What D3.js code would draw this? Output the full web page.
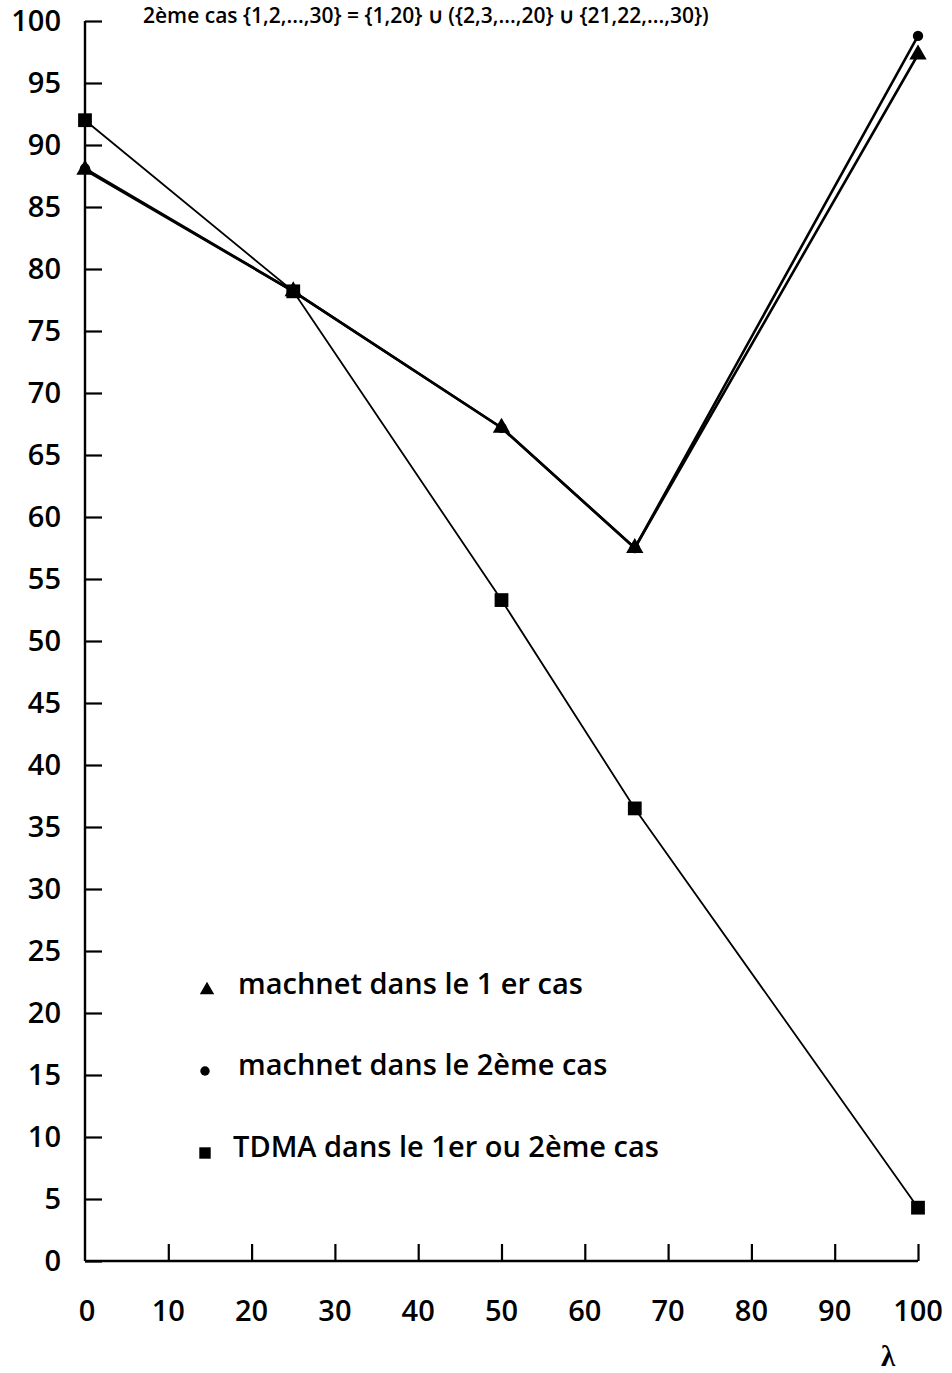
<!DOCTYPE html>
<html><head><meta charset="utf-8">
<script src="https://cdn.jsdelivr.net/npm/d3@7"></script>
<style>html,body{margin:0;padding:0;background:#fff;overflow:hidden}</style>
</head><body>
<script>
const lambdas = [0, 25, 50, 66, 100];
const machnet1 = [88, 78.2, 67.2, 57.5, 97.3];
const machnet2 = [88.1, 78.2, 67.2, 57.5, 98.8];
const tdma = [92, 78.2, 53.3, 36.5, 4.3];
const xTicks = [0,10,20,30,40,50,60,70,80,90,100];
const yTicks = [0,5,10,15,20,25,30,35,40,45,50,55,60,65,70,75,80,85,90,95,100];
const legendLabels = ["machnet dans le 1 er cas", "machnet dans le 2ème cas", "TDMA dans le 1er ou 2ème cas"];
const titleText = "2ème cas {1,2,...,30} = {1,20} ∪ ({2,3,...,20} ∪ {21,22,...,30})";
const xLabel = "λ";

const W = 952, H = 1373;
const svg = d3.select("body").append("svg").attr("width", W).attr("height", H);
const x = d3.scaleLinear().domain([0,100]).range([85, 918]);
const y = d3.scaleLinear().domain([0,100]).range([1261, 21]);
const font = "'Open Sans', sans-serif";

// title (kept fully visible at the top)
svg.append("text").attr("x", 143).attr("y", 23).attr("font-family", font)
  .attr("font-size", 21).attr("font-weight", 600).text(titleText);

// y axis
const yAxis = svg.append("g").attr("transform", `translate(${x(0)},0)`)
  .call(d3.axisRight(y).tickValues(yTicks).tickSize(17).tickFormat(""));
yAxis.select(".domain").attr("stroke-width", 2.4).attr("d", `M0,${y(100)}V${y(0)}`);
yAxis.selectAll(".tick line").attr("stroke-width", 2.2);
svg.append("g").selectAll("text").data(yTicks).join("text")
  .attr("x", 61).attr("y", d => y(d)).attr("dy", "0.36em")
  .attr("text-anchor", "end").attr("font-family", font)
  .attr("font-size", 29).attr("font-weight", 600).text(d => d);

// x axis
const xAxis = svg.append("g").attr("transform", `translate(0,${y(0)})`)
  .call(d3.axisTop(x).tickValues(xTicks.filter(d => d > 0)).tickSize(17).tickFormat(""));
xAxis.select(".domain").attr("stroke-width", 2.4).attr("d", `M${x(0)},0H${x(100)}`);
xAxis.selectAll(".tick line").attr("stroke-width", 2.2);
svg.append("g").selectAll("text").data(xTicks).join("text")
  .attr("x", d => x(d) + (d === 0 ? 2 : 0)).attr("y", 1321)
  .attr("text-anchor", "middle").attr("font-family", font)
  .attr("font-size", 29).attr("font-weight", 600).text(d => d);
svg.append("text").attr("x", 888).attr("y", 1366).attr("text-anchor", "middle")
  .attr("font-family", "'Liberation Serif', serif").attr("font-size", 29)
  .attr("font-weight", "bold").text(xLabel);

// lines
const line = d3.line().x(d => x(d[0])).y(d => y(d[1]));
const series = [
  {vals: tdma, w: 1.8},
  {vals: machnet1, w: 2.6},
  {vals: machnet2, w: 2.6},
];
series.forEach(s => {
  svg.append("path").datum(lambdas.map((l,i) => [l, s.vals[i]]))
    .attr("d", line).attr("fill", "none").attr("stroke", "#000")
    .attr("stroke-width", s.w).attr("stroke-linejoin", "round");
});

// markers
const tri = d3.symbol().type(d3.symbolTriangle).size(130);
const circ = d3.symbol().type(d3.symbolCircle).size(85);
const sq = d3.symbol().type(d3.symbolSquare).size(190);
svg.append("g").selectAll("path").data(lambdas.map((l,i) => [l, machnet2[i]])).join("path")
  .attr("d", circ).attr("transform", d => `translate(${x(d[0])},${y(d[1])})`);
svg.append("g").selectAll("path").data(lambdas.map((l,i) => [l, machnet1[i]])).join("path")
  .attr("d", tri).attr("transform", d => `translate(${x(d[0])},${y(d[1])})`);
svg.append("g").selectAll("path").data(lambdas.map((l,i) => [l, tdma[i]])).join("path")
  .attr("d", sq).attr("transform", d => `translate(${x(d[0])},${y(d[1])})`);

// legend
const legY = [984, 1065, 1147];
const legSymX = [207, 205, 205];
const legTextX = [238, 238, 233];
const legSym = [d3.symbol().type(d3.symbolTriangle).size(90), d3.symbol().type(d3.symbolCircle).size(70), d3.symbol().type(d3.symbolSquare).size(130)];
legendLabels.forEach((lab, i) => {
  svg.append("path").attr("d", legSym[i]).attr("transform", `translate(${legSymX[i]},${legY[i] + 6})`);
  svg.append("text").attr("x", legTextX[i]).attr("y", legY[i]).attr("dy", "0.36em")
    .attr("font-family", font).attr("font-size", 29).attr("font-weight", 600).text(lab);
});
</script>
</body></html>
